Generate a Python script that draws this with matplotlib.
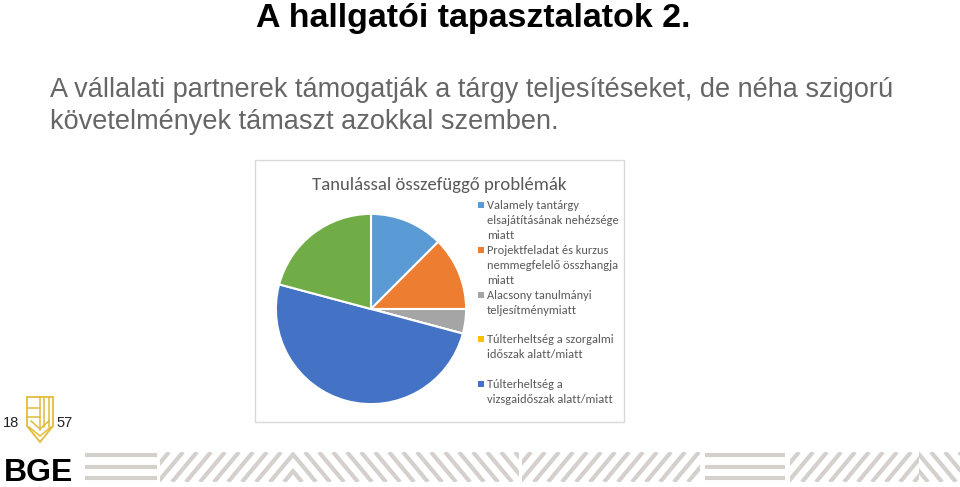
import matplotlib
matplotlib.use("Agg")
import matplotlib.pyplot as plt
from matplotlib import font_manager
from matplotlib.patches import Rectangle, Polygon

# adatok
labels = [
    "Valamely tantárgy\nelsajátításának nehézsége\nmiatt",
    "Projektfeladat és kurzus\nnemmegfelelő összhangja\nmiatt",
    "Alacsony tanulmányi\nteljesítménymiatt",
    "Túlterheltség a szorgalmi\nidőszak alatt/miatt",
    "Túlterheltség a\nvizsgaidőszak alatt/miatt",
    "",
]
values = [3, 3, 1, 0, 12, 5]
colors = ["#5B9BD5", "#ED7D31", "#A5A5A5", "#FFC000", "#4472C4", "#70AD47"]
legend_rows = [205, 250, 295, 339, 384]

slide_title = "A hallgatói tapasztalatok 2."
subtitle = ["A vállalati partnerek támogatják a tárgy teljesítéseket, de néha szigorú",
            "követelmények támaszt azokkal szemben."]
chart_title = "Tanulással összefüggő problémák"

names = {f.name for f in font_manager.fontManager.ttflist}
calib = "Carlito" if "Carlito" in names else "Lato"

W, H = 960, 487
fig = plt.figure(figsize=(W / 100, H / 100), dpi=100)
bg = fig.add_axes([0, 0, 1, 1])
bg.set_xlim(0, W)
bg.set_ylim(H, 0)
bg.axis("off")

# fejléc
bg.text(473, 27, slide_title, ha="center", va="baseline", fontsize=24.5,
        fontweight="bold", family="Liberation Sans", color="black")
bg.text(50, 97, subtitle[0], ha="left", va="baseline", fontsize=19.5,
        family="Liberation Sans", color="#666666")
bg.text(50, 129, subtitle[1], ha="left", va="baseline", fontsize=19.5,
        family="Liberation Sans", color="#666666")

# diagram kerete
bg.add_patch(Rectangle((255, 160), 369, 262, fill=False, edgecolor="#D9D9D9", lw=1))
bg.text(439, 190, chart_title, ha="center", va="baseline", fontsize=13.5, family=calib, color="#595959")

# jelmagyarázat
for lab, col, y in zip(labels[:5], colors[:5], legend_rows):
    bg.add_patch(Rectangle((478, y - 3), 6, 6, color=col, lw=0))
    for i, line in enumerate(lab.split("\n")):
        bg.text(487, y + 4 + i * 15, line, ha="left", va="baseline", fontsize=8.9,
                family=calib, color="#595959")

# kördiagram
cx, cy, r = 371, 309, 97
pax = fig.add_axes([(cx - r) / W, (H - cy - r) / H, 2 * r / W, 2 * r / H])
pax.pie(values, colors=colors, startangle=90, counterclock=False,
        wedgeprops=dict(edgecolor="white", linewidth=1.5))
pax.set_xlim(-1.02, 1.02)
pax.set_ylim(-1.02, 1.02)
pax.axis("off")

# logó
gold = "#E0BC3A"
shield = [(27, 397), (53, 397), (53, 426), (40, 442), (27, 426)]
bg.add_patch(Polygon(shield, closed=True, fill=False, edgecolor=gold, lw=1.3))
bg.plot([40, 40], [397, 430], color=gold, lw=1.1)
for yy in [408, 417]:
    bg.plot([27, 40], [yy, yy], color=gold, lw=1.1)
for xx in [44, 48.5]:
    bg.plot([xx, xx], [397, 427], color=gold, lw=1.1)
bg.plot([29, 40, 51], [427, 436, 427], color=gold, lw=1.1)
bg.plot([31, 40, 49], [421, 429, 421], color=gold, lw=1.1)
bg.text(11, 427, "18", ha="center", va="baseline", fontsize=10.5, family="Liberation Sans", color="#222222")
bg.text(65, 427, "57", ha="center", va="baseline", fontsize=10.5, family="Liberation Sans", color="#222222")
bg.text(4, 481, "BGE", ha="left", va="baseline", fontsize=23, fontweight="bold",
        family="Liberation Sans", color="black")

# csíkos sáv
stripe = "#D4D0CC"
segments = [(85, 157, "="), (160, 293, "/"), (293, 519, "\\"), (522, 700, "/"),
            (705, 785, "="), (790, 919, "/"), (919, 960, "\\")]
y0, y1 = 452, 482
for x0, x1, kind in segments:
    clip = Rectangle((x0, y0), x1 - x0, y1 - y0, transform=bg.transData)
    if kind == "=":
        for yy in [455, 467, 478]:
            bg.plot([x0, x1], [yy, yy], color=stripe, lw=3, solid_capstyle="butt")
        continue
    xx = x0 - 30
    while xx < x1 + 30:
        if kind == "/":
            ln, = bg.plot([xx, xx + 25], [y1, y0], color=stripe, lw=3, solid_capstyle="butt")
        else:
            ln, = bg.plot([xx, xx + 25], [y0, y1], color=stripe, lw=3, solid_capstyle="butt")
        ln.set_clip_path(clip)
        xx += 14

fig.savefig("out.png", dpi=100)
